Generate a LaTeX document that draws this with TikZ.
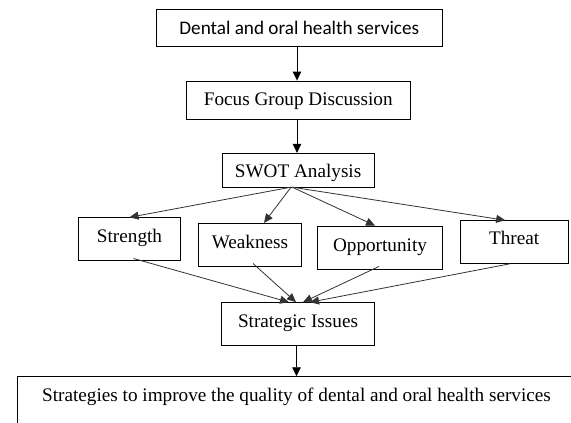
\documentclass[tikz,border=0pt]{standalone}
\usepackage{fontspec}
\setmainfont{Liberation Serif}
\newfontfamily\calibrifont{Carlito}
\usetikzlibrary{arrows.meta,calc}
\tikzset{
  box/.style={draw=black, line width=0.9pt, inner sep=0pt, rectangle,
    font=\fontsize{19.2}{23}\selectfont, text height=13pt, text depth=4pt},
  arr/.style={line width=0.9pt, -{Triangle[length=9pt,width=8.5pt]}},
  ln/.style={line width=0.8pt, draw=black!80, -{Triangle[length=9pt,width=8pt]}}
}
\begin{document}
\begin{tikzpicture}[x=1pt,y=-1pt]
\clip (0,0) rectangle (571,423);
\fill[white] (0,0) rectangle (571,423);
\coordinate (col) at (297,0);
\node[box, minimum width=286.7pt, minimum height=36.7pt, font=\calibrifont\fontsize{19.2}{23}\selectfont] (b1) at (299.3,27.7) {\raisebox{-2.5pt}{Dental and oral health services}};
\node[box, minimum width=223.3pt, minimum height=38pt] (b2) at (298.3,100) {\raisebox{-1pt}{Focus Group Discussion}};
\node[box, minimum width=152.3pt, minimum height=34.4pt] (swot) at (298.1,170.5) {\raisebox{-2pt}{SWOT Analysis}};
\node[box, minimum width=102.4pt, minimum height=42.3pt] (str) at (129.5,238.9) {\raisebox{1pt}{Strength}};
\node[box, minimum width=103.4pt, minimum height=42.7pt] (weak) at (250,244.7) {\raisebox{0.5pt}{Weakness}};
\node[box, minimum width=125.4pt, minimum height=43pt] (opp) at (380,247.5) {\raisebox{0.6pt}{Opportunity}};
\node[box, minimum width=108.3pt, minimum height=42.6pt] (thr) at (514.2,242) {\raisebox{1.9pt}{Threat}};
\node[box, minimum width=152.6pt, minimum height=42.3pt] (si) at (298,323.8) {\raisebox{1pt}{Strategic Issues}};
\node[box, minimum width=559pt, minimum height=60pt] (bot) at (296.5,406.7) {\raisebox{10pt}{Strategies to improve the quality of dental and oral health services}};
% vertical arrows
\draw[arr] (b1.south -| col) -- (b2.north -| col);
\draw[arr] (b2.south -| col) -- (swot.north -| col);
\draw[arr] (si.south -| bot.north) -- (bot.north);
% SWOT fan-out
\coordinate (s0) at ([xshift=-7pt,yshift=1pt]swot.south);
\draw[ln] (s0) -- (str.north);
\draw[ln] (s0) -- ([xshift=14pt]weak.north);
\draw[ln] ([xshift=1pt]s0) -- ([xshift=-5pt]opp.north);
\draw[ln] ([xshift=1pt]s0) -- ([xshift=-9pt]thr.north);
% fan-in
\draw[ln] ([xshift=4pt,yshift=2pt]str.south) -- ([xshift=-9pt]si.north);
\draw[ln] ([xshift=3pt,yshift=3pt]weak.south) -- ([xshift=-2pt]si.north);
\draw[ln] ([xshift=-1pt,yshift=3pt]opp.south) -- ([xshift=5pt]si.north);
\draw[ln] ([xshift=-4pt]thr.south) -- ([xshift=12pt]si.north);
\end{tikzpicture}
\end{document}
